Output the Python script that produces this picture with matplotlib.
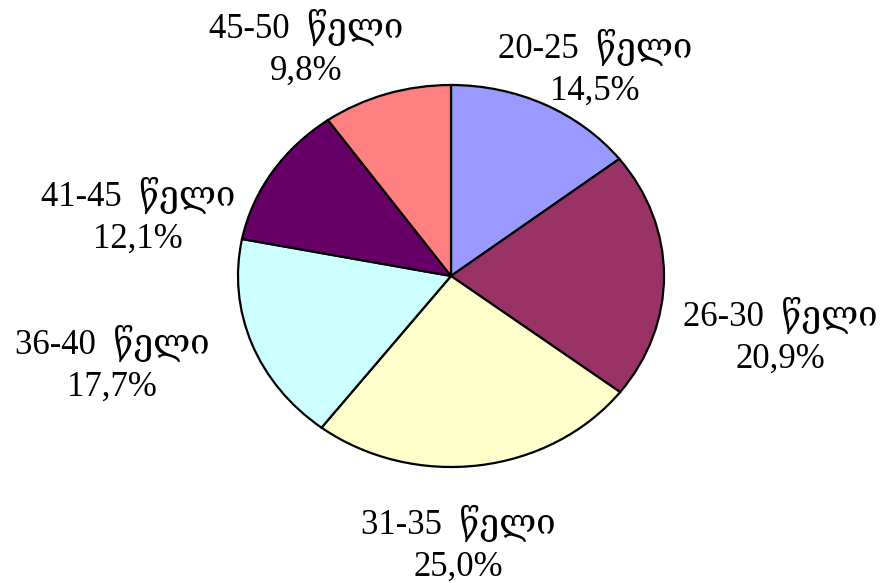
import matplotlib
matplotlib.use("Agg")
import matplotlib.pyplot as plt

# data
groups = ["20-25", "26-30", "31-35", "36-40", "41-45", "45-50"]
shares = [14.5, 20.9, 25.0, 17.7, 12.1, 9.8]
colors = ["#9999FF", "#993366", "#FFFFCC", "#CCFFFF", "#660066", "#FF8080"]

# label centres (in pie-radius units)
label_pos = [(0.676, 1.089), (1.545, -0.314), (0.033, -1.403),
             (-1.592, -0.461), (-1.469, 0.314), (-0.681, 1.194)]

fig = plt.figure(figsize=(8.88, 5.83), dpi=100)
ax = fig.add_axes([0, 0, 1, 1])
ax.pie(shares, colors=colors, startangle=90, counterclock=False,
       wedgeprops=dict(edgecolor="black", linewidth=1.6))
ax.set_aspect("auto")
ax.set_xlim(-451 / 213, (888 - 451) / 213)
ax.set_ylim(-(583 - 276) / 191, 276 / 191)
ax.axis("off")

for g, s, (x, y) in zip(groups, shares, label_pos):
    txt = f"{g}  წელი\n{s:.1f}%".replace(".", ",")
    ax.text(x, y, txt, ha="center", va="center", fontsize=25,
            linespacing=1.35, family=["Liberation Serif", "DejaVu Serif", "DejaVu Sans"])

fig.savefig("out.png", dpi=100)
